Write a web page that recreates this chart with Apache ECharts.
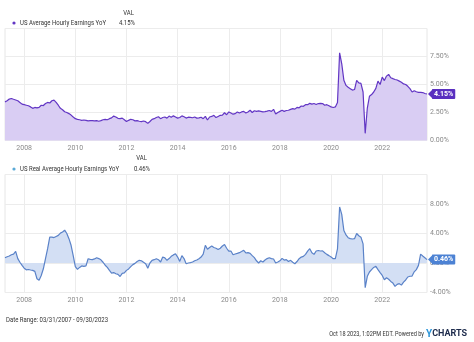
<!DOCTYPE html>
<html>
<head>
<meta charset="utf-8">
<script src="https://cdn.jsdelivr.net/npm/echarts@6/dist/echarts.min.js"></script>
<style>
  html, body { margin: 0; padding: 0; background: #fff; }
  #chart { width: 474px; height: 342px; }
</style>
</head>
<body>
<div id="chart"></div>
<script>
// Monthly observations, March 2007 through September 2023
const startYear = 2007;
const startMonth = 3;

// Even-year ticks on the date axis
const yearTicks = [2008, 2010, 2012, 2014, 2016, 2018, 2020, 2022];

// US Average Hourly Earnings YoY (%)
const aheYoY = [
  3.45, 3.55, 3.70, 3.75, 3.68, 3.62, 3.55, 3.40, 3.25, 3.20,              // 2007
  3.15, 3.10, 3.00, 2.87, 2.95, 2.92, 2.95, 3.15, 3.12, 3.30, 3.40, 3.35,  // 2008
  3.55, 3.60, 3.40, 3.15, 2.87, 2.75, 2.57, 2.50, 2.40, 2.27, 2.10, 1.95,  // 2009
  1.89, 1.85, 1.80, 1.83, 1.80, 1.75, 1.78, 1.77, 1.75, 1.77, 1.72, 1.77,  // 2010
  1.85, 1.89, 1.85, 1.95, 2.02, 2.18, 2.10, 1.98, 1.95, 2.00, 1.85, 1.69,  // 2011
  1.80, 1.89, 1.85, 1.75, 1.78, 1.72, 1.69, 1.74, 1.68, 1.53, 1.70, 1.89,  // 2012
  1.95, 2.05, 2.12, 1.95, 2.05, 2.10, 2.00, 2.18, 2.08, 2.20, 2.10, 2.00,  // 2013
  2.05, 2.20, 2.12, 2.00, 2.08, 2.06, 2.03, 2.10, 2.00, 2.02, 2.08, 1.95,  // 2014
  2.15, 1.83, 2.10, 2.15, 2.25, 2.05, 2.15, 2.25, 2.27, 2.48, 2.30, 2.55,  // 2015
  2.45, 2.35, 2.40, 2.55, 2.45, 2.55, 2.60, 2.45, 2.55, 2.70, 2.50, 2.66,  // 2016
  2.60, 2.65, 2.60, 2.55, 2.58, 2.62, 2.68, 2.60, 2.78, 2.36, 2.50, 2.60,  // 2017
  2.70, 2.60, 2.68, 2.70, 2.78, 2.84, 2.80, 2.95, 2.92, 3.08, 3.05, 3.20,  // 2018
  3.20, 3.32, 3.25, 3.30, 3.22, 3.30, 3.32, 3.30, 3.15, 3.20, 3.10, 3.00,  // 2019
  2.95, 3.00, 3.40, 7.83, 6.85, 5.37, 4.92, 4.75, 4.63, 4.50, 4.55, 5.37,  // 2020
  5.15, 5.10, 4.33, 0.64, 2.90, 3.95, 4.10, 4.33, 4.65, 5.30, 5.00, 5.66,  // 2021
  5.35, 5.75, 5.90, 5.60, 5.52, 5.45, 5.40, 5.30, 5.20, 5.05, 5.00, 4.84,  // 2022
  4.63, 4.33, 4.45, 4.35, 4.30, 4.30, 4.28, 4.20, 4.15                     // 2023
];

// US Real Average Hourly Earnings YoY (%)
const realAheYoY = [
  0.72, 0.85, 0.95, 1.12, 1.20, 1.57, 0.60, 0.10, -0.33, -0.70,                  // 2007
  -0.92, -0.88, -0.95, -1.00, -1.14, -2.13, -2.35, -1.70, -0.78, 0.60, 1.94, 3.50, // 2008
  3.50, 3.45, 3.60, 3.75, 4.05, 4.20, 4.45, 4.00, 3.30, 2.40, 1.00, -0.50,       // 2009
  -0.87, -0.60, -0.40, -0.45, -0.40, 0.58, 0.50, 0.46, 0.55, 0.72, 0.60, 0.43,   // 2010
  0.10, -0.30, -0.60, -1.00, -1.37, -1.30, -1.46, -1.55, -1.83, -1.40, -1.35, -1.00, // 2011
  -0.80, -0.50, -0.22, -0.05, 0.20, 0.36, 0.30, 0.10, -0.10, -0.70, 0.00, 0.36,  // 2012
  0.45, 0.58, 0.45, 0.14, 0.81, 0.70, 0.37, 0.60, 0.90, 1.10, 1.26, 0.80,        // 2013
  0.22, 1.00, 0.60, -0.10, 0.00, 0.05, 0.13, 0.30, 0.40, 0.58, 0.80, 1.20,       // 2014
  2.40, 1.86, 2.10, 2.30, 2.10, 2.00, 1.83, 2.00, 2.30, 2.50, 2.00, 1.60,        // 2015
  1.63, 1.12, 1.22, 1.30, 1.40, 1.55, 1.72, 1.36, 1.40, 1.30, 1.00, 0.72,        // 2016
  0.30, 0.00, 0.30, 0.14, 0.40, 0.60, 0.72, 0.60, 0.54, 0.00, 0.14, 0.30,        // 2017
  0.63, 0.40, 0.46, 0.20, 0.36, 0.10, -0.10, 0.20, 0.58, 0.80, 0.90, 1.17,       // 2018
  1.60, 1.94, 1.40, 1.17, 1.63, 1.70, 1.63, 1.65, 1.40, 1.17, 1.00, 0.80,        // 2019
  0.58, 0.60, 1.90, 7.60, 6.60, 4.40, 3.80, 3.43, 3.30, 3.25, 3.30, 4.00,        // 2020
  3.70, 3.50, 2.60, -3.35, -1.80, -1.22, -0.90, -0.60, -0.45, -0.90, -1.30, -1.68, // 2021
  -2.27, -2.00, -2.20, -2.50, -2.72, -3.17, -2.90, -2.80, -3.00, -2.60, -2.30, -1.90, // 2022
  -1.80, -1.77, -1.20, -0.90, -0.32, 1.20, 0.95, 0.72, 0.46                      // 2023
];

const FONT = "'Roboto', 'Liberation Sans', sans-serif";
const NARROW = 0.8;  // horizontal squeeze for the condensed header and footer text
const TOP_COLOR = '#6236c4';
const TOP_FILL = '#d9cdf3';
const TOP_TAG = '#5a2fc0';
const BOT_COLOR = '#5a82c8';
const BOT_FILL = '#d3dff4';
const BOT_TAG = '#4c82d4';
const GRID_LINE = '#ececec';

// month-end position of each observation, as a fractional year
const monthEnds = aheYoY.map((_, i) => startYear + (startMonth + i) / 12);
const pairs = vals => vals.map((v, i) => [monthEnds[i], v]);
const pct = v => v.toFixed(2) + '%';

const xMin = monthEnds[0];
const xMax = monthEnds[monthEnds.length - 1];
const lastTop = aheYoY[aheYoY.length - 1];
const lastBot = realAheYoY[realAheYoY.length - 1];

function dateAxis(gridIndex) {
  return {
    type: 'value', gridIndex, min: xMin, max: xMax,
    axisLine: { show: false },
    axisTick: { show: false, customValues: yearTicks },
    axisLabel: {
      customValues: yearTicks, formatter: v => String(v),
      color: '#8a8a8a', fontSize: 7, fontFamily: FONT, margin: 4
    },
    splitLine: { show: true, lineStyle: { color: GRID_LINE, width: 1 } }
  };
}

function valueAxis(gridIndex, min, max, interval) {
  return {
    type: 'value', gridIndex, position: 'right', min, max, interval,
    axisLine: { show: false }, axisTick: { show: false },
    axisLabel: {
      formatter: pct, showMaxLabel: false,
      color: '#8a8a8a', fontSize: 7, fontFamily: FONT, margin: 3
    },
    splitLine: { show: true, lineStyle: { color: GRID_LINE, width: 1 } }
  };
}

function tagSeries(name, vals, idx, line, fill, tag) {
  const last = vals[vals.length - 1];
  return {
    name, type: 'line', xAxisIndex: idx, yAxisIndex: idx,
    data: pairs(vals), showSymbol: false, symbol: 'none',
    lineStyle: { color: line, width: 1.2 },
    areaStyle: { color: fill, opacity: 1 },
    endLabel: {
      show: true, formatter: () => pct(last), distance: 5,
      color: '#fff', backgroundColor: tag, fontSize: 7, fontWeight: 'bold',
      fontFamily: FONT, padding: [2, 2, 1, 2], borderRadius: 1
    },
    markPoint: {
      silent: true, animation: false,
      symbol: 'path://M0 5L6 0L6 10Z', symbolSize: [5, 10], symbolOffset: [3.5, 0],
      itemStyle: { color: tag }, label: { show: false },
      data: [{ coord: [xMax, last] }]
    }
  };
}

// squeezed text anchored at (x, y)
const label = (text, x, y, opts = {}) => ({
  type: 'text', x, y, scaleX: NARROW, silent: true,
  style: Object.assign({
    text, fill: '#333', font: '7.5px ' + FONT, align: 'left', verticalAlign: 'middle'
  }, opts)
});

const chart = echarts.init(document.getElementById('chart'), null, { renderer: 'canvas' });
chart.setOption({
  animation: false,
  backgroundColor: '#ffffff',
  textStyle: { fontFamily: FONT },
  grid: [
    { left: 5, right: 47, top: 28.5, height: 112, show: true, borderColor: '#e6e6e6', borderWidth: 1 },
    { left: 5, right: 47, top: 174.5, height: 118, show: true, borderColor: '#e6e6e6', borderWidth: 1 }
  ],
  xAxis: [dateAxis(0), dateAxis(1)],
  yAxis: [valueAxis(0, 0, 10, 2.5), valueAxis(1, -4, 12, 4)],
  series: [
    tagSeries('US Average Hourly Earnings YoY', aheYoY, 0, TOP_COLOR, TOP_FILL, TOP_TAG),
    tagSeries('US Real Average Hourly Earnings YoY', realAheYoY, 1, BOT_COLOR, BOT_FILL, BOT_TAG)
  ],
  graphic: [
    label('VAL', 134, 13, { align: 'right' }),
    { type: 'circle', shape: { cx: 14, cy: 23, r: 1.6 }, style: { fill: TOP_COLOR }, silent: true },
    label('US Average Hourly Earnings YoY', 20, 23),
    label(pct(lastTop), 135, 23, { align: 'right' }),

    label('VAL', 147, 158, { align: 'right' }),
    { type: 'circle', shape: { cx: 14, cy: 169, r: 1.6 }, style: { fill: '#5aa9d6' }, silent: true },
    label('US Real Average Hourly Earnings YoY', 20, 169),
    label(pct(lastBot), 150, 169, { align: 'right' }),

    label('Date Range: 03/31/2007 - 09/30/2023', 6, 320),
    label('Oct 18 2023, 1:02PM EDT. Powered by', 424, 334, { align: 'right', font: '7px ' + FONT }),
    {
      type: 'text', x: 426, y: 334, silent: true,
      style: {
        text: '{y|Y}{c|CHARTS}', verticalAlign: 'middle', align: 'left',
        rich: {
          y: { fill: '#2b95d9', font: 'bold 10px ' + FONT },
          c: { fill: '#1d2b4c', font: 'bold 9px ' + FONT }
        }
      }
    }
  ]
});
</script>
</body>
</html>
